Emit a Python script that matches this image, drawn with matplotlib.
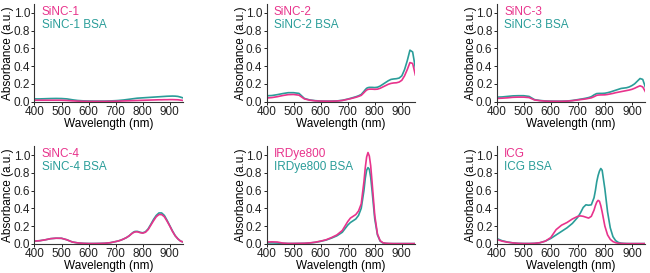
import matplotlib
matplotlib.use("Agg")
import matplotlib.pyplot as plt

plt.rcParams['font.family'] = ['Liberation Sans', 'DejaVu Sans']
plt.rcParams['font.size'] = 8.5

PINK = '#e8338c'
TEAL = '#2a9d99'

wl = [400, 420, 440, 460, 480, 500, 520, 540, 560, 580, 600, 620, 640, 660, 680,
      700, 710, 720, 730, 740, 750, 760, 765, 770, 775, 780, 785, 790, 800, 810, 820, 830, 840,
      850, 860, 870, 880, 890, 900, 910, 920, 930, 940, 950]

sinc1 = [0.015, 0.015, 0.015, 0.015, 0.015, 0.015, 0.012, 0.008, 0.005, 0.003, 0.002, 0.002, 0.002, 0.002, 0.003,
         0.004, 0.005, 0.006, 0.007, 0.008, 0.009, 0.01, 0.0105, 0.011, 0.0115, 0.012, 0.0125, 0.013, 0.014, 0.015, 0.016, 0.017, 0.018,
         0.019, 0.02, 0.02, 0.021, 0.021, 0.022, 0.022, 0.021, 0.02, 0.016, 0.012]
sinc1_bsa = [0.03, 0.03, 0.032, 0.034, 0.035, 0.034, 0.03, 0.02, 0.012, 0.008, 0.006, 0.005, 0.005, 0.005, 0.007,
             0.01, 0.012, 0.015, 0.018, 0.022, 0.026, 0.03, 0.032, 0.034, 0.036, 0.038, 0.039, 0.04, 0.042, 0.044, 0.046, 0.048, 0.05,
             0.052, 0.054, 0.056, 0.058, 0.06, 0.061, 0.062, 0.061, 0.058, 0.05, 0.04]

sinc2 = [0.04, 0.045, 0.055, 0.068, 0.078, 0.08, 0.072, 0.03, 0.015, 0.008, 0.005, 0.004, 0.004, 0.006, 0.012,
         0.025, 0.032, 0.04, 0.048, 0.058, 0.07, 0.1, 0.116, 0.13, 0.137, 0.14, 0.14, 0.14, 0.138, 0.14, 0.15, 0.165, 0.18,
         0.195, 0.205, 0.21, 0.212, 0.22, 0.24, 0.29, 0.36, 0.44, 0.43, 0.3]
sinc2_bsa = [0.065, 0.068, 0.078, 0.09, 0.1, 0.1, 0.092, 0.035, 0.018, 0.01, 0.006, 0.005, 0.005, 0.007, 0.014,
             0.028, 0.036, 0.045, 0.054, 0.065, 0.08, 0.115, 0.134, 0.15, 0.157, 0.16, 0.16, 0.16, 0.158, 0.162, 0.175, 0.195, 0.215,
             0.235, 0.25, 0.255, 0.258, 0.265, 0.29, 0.36, 0.46, 0.58, 0.56, 0.38]

sinc3 = [0.035, 0.038, 0.042, 0.048, 0.05, 0.05, 0.045, 0.018, 0.01, 0.005, 0.003, 0.003, 0.003, 0.005, 0.01,
         0.018, 0.022, 0.026, 0.03, 0.036, 0.042, 0.055, 0.063, 0.07, 0.073, 0.074, 0.075, 0.075, 0.076, 0.08, 0.086, 0.092, 0.1,
         0.106, 0.112, 0.118, 0.124, 0.13, 0.138, 0.15, 0.165, 0.178, 0.165, 0.11]
sinc3_bsa = [0.05, 0.052, 0.058, 0.064, 0.066, 0.066, 0.058, 0.022, 0.012, 0.007, 0.005, 0.004, 0.004, 0.006, 0.012,
             0.022, 0.027, 0.032, 0.038, 0.045, 0.055, 0.075, 0.083, 0.09, 0.091, 0.092, 0.092, 0.092, 0.094, 0.1, 0.108, 0.118, 0.128,
             0.138, 0.148, 0.152, 0.156, 0.165, 0.18, 0.2, 0.23, 0.26, 0.25, 0.16]

sinc4 = [0.03, 0.035, 0.045, 0.058, 0.063, 0.062, 0.045, 0.02, 0.01, 0.005, 0.003, 0.003, 0.004, 0.006, 0.012,
         0.025, 0.032, 0.042, 0.055, 0.07, 0.09, 0.115, 0.125, 0.132, 0.135, 0.135, 0.131, 0.126, 0.12, 0.13, 0.16, 0.21, 0.26,
         0.305, 0.33, 0.33, 0.305, 0.255, 0.2, 0.14, 0.09, 0.055, 0.03, 0.02]
sinc4_bsa = [0.03, 0.035, 0.045, 0.058, 0.063, 0.062, 0.045, 0.02, 0.01, 0.005, 0.003, 0.003, 0.004, 0.006, 0.012,
             0.025, 0.032, 0.042, 0.055, 0.07, 0.09, 0.118, 0.13, 0.138, 0.14, 0.14, 0.136, 0.13, 0.124, 0.135, 0.168, 0.22, 0.275,
             0.32, 0.348, 0.348, 0.32, 0.265, 0.205, 0.145, 0.092, 0.056, 0.03, 0.02]

irdye = [0.02, 0.022, 0.02, 0.008, 0.004, 0.004, 0.005, 0.006, 0.01, 0.018, 0.03, 0.045, 0.07, 0.1, 0.15,
         0.25, 0.29, 0.31, 0.33, 0.37, 0.45, 0.7, 0.86, 0.98, 1.03, 0.99, 0.88, 0.7, 0.32, 0.11, 0.035, 0.012, 0.006,
         0.004, 0.003, 0.002, 0.002, 0.002, 0.002, 0.002, 0.002, 0.002, 0.002, 0.002]
irdye_bsa = [0.01, 0.01, 0.008, 0.005, 0.003, 0.003, 0.004, 0.005, 0.009, 0.016, 0.028, 0.042, 0.064, 0.09, 0.13,
             0.21, 0.24, 0.26, 0.28, 0.32, 0.4, 0.6, 0.74, 0.83, 0.86, 0.84, 0.75, 0.6, 0.28, 0.1, 0.03, 0.01, 0.005,
             0.003, 0.002, 0.002, 0.002, 0.002, 0.002, 0.002, 0.002, 0.002, 0.002, 0.002]

icg = [0.05, 0.03, 0.018, 0.01, 0.005, 0.003, 0.003, 0.005, 0.012, 0.03, 0.07, 0.16, 0.21, 0.24, 0.28,
       0.31, 0.315, 0.31, 0.3, 0.29, 0.31, 0.38, 0.43, 0.47, 0.49, 0.48, 0.43, 0.36, 0.2, 0.1, 0.05, 0.025, 0.012,
       0.006, 0.004, 0.003, 0.002, 0.002, 0.002, 0.002, 0.002, 0.002, 0.002, 0.002]
icg_bsa = [0.06, 0.035, 0.02, 0.01, 0.005, 0.003, 0.003, 0.005, 0.012, 0.03, 0.06, 0.1, 0.14, 0.18, 0.23,
           0.3, 0.35, 0.41, 0.44, 0.435, 0.44, 0.52, 0.6, 0.7, 0.77, 0.82, 0.85, 0.83, 0.62, 0.36, 0.18, 0.08, 0.035,
           0.015, 0.007, 0.004, 0.003, 0.002, 0.002, 0.002, 0.002, 0.002, 0.002, 0.002]

names = [('SiNC-1', 'SiNC-1 BSA'), ('SiNC-2', 'SiNC-2 BSA'), ('SiNC-3', 'SiNC-3 BSA'),
         ('SiNC-4', 'SiNC-4 BSA'), ('IRDye800', 'IRDye800 BSA'), ('ICG', 'ICG BSA')]
series = [(sinc1, sinc1_bsa), (sinc2, sinc2_bsa), (sinc3, sinc3_bsa),
          (sinc4, sinc4_bsa), (irdye, irdye_bsa), (icg, icg_bsa)]

fig = plt.figure(figsize=(6.5, 2.73), dpi=100)
lefts = [0.053, 0.410, 0.764]
bottoms = [0.628, 0.107]

for i in range(6):
    ax = fig.add_axes([lefts[i % 3], bottoms[i // 3], 0.229, 0.357])
    plain, bsa = series[i]
    ax.plot(wl, bsa, color=TEAL, lw=1.2)
    ax.plot(wl, plain, color=PINK, lw=1.2)
    ax.set_xlim(400, 950)
    ax.set_ylim(0, 1.1)
    ax.set_xticks([400, 500, 600, 700, 800, 900])
    ax.set_yticks([0.0, 0.2, 0.4, 0.6, 0.8, 1.0])
    ax.set_yticklabels(['0.0', '0.2', '0.4', '0.6', '0.8', '1.0'])
    ax.spines['top'].set_visible(False)
    ax.spines['right'].set_visible(False)
    for s in ['left', 'bottom']:
        ax.spines[s].set_color('#333333')
        ax.spines[s].set_linewidth(0.8)
    ax.tick_params(length=2, width=0.7, pad=1, labelsize=8.5, colors='#222222')
    ax.set_xlabel('Wavelength (nm)', fontsize=8.5, labelpad=0)
    ax.set_ylabel('Absorbance (a.u.)', fontsize=8.5, labelpad=-0.5)
    ax.text(0.05, 0.92, names[i][0], color=PINK, transform=ax.transAxes, va='center', fontsize=8.5)
    ax.text(0.05, 0.79, names[i][1], color=TEAL, transform=ax.transAxes, va='center', fontsize=8.5)

fig.savefig('out.png', dpi=100)
